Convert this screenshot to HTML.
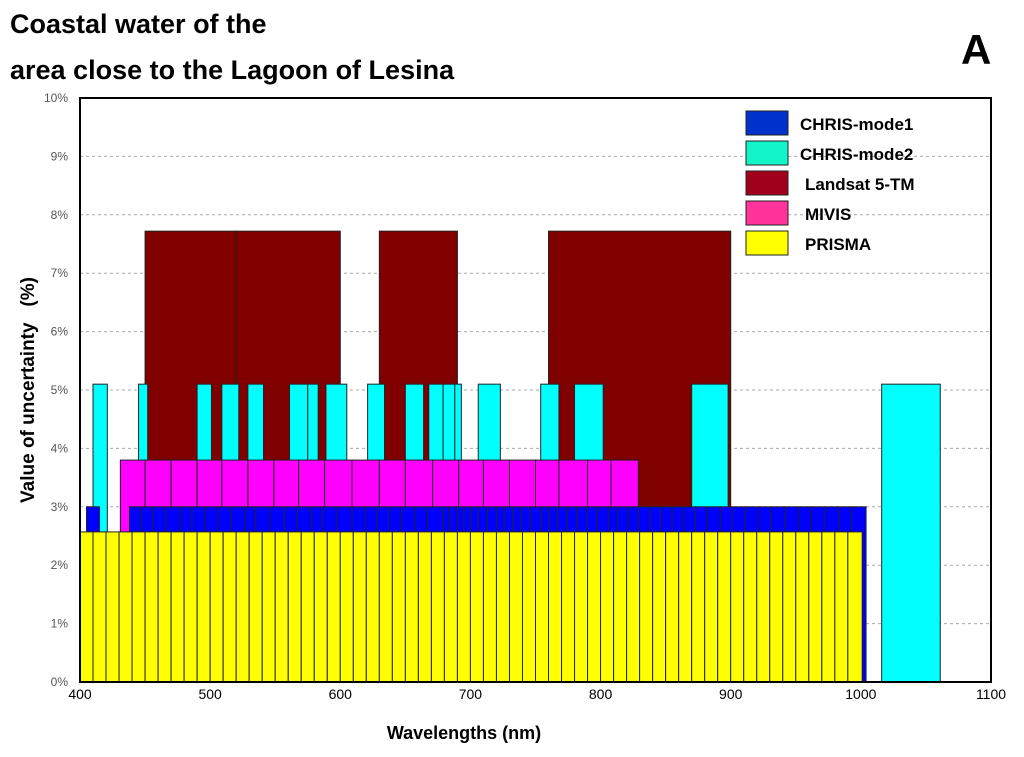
<!DOCTYPE html>
<html><head><meta charset="utf-8"><style>
body{margin:0;background:#fff;width:1024px;height:757px;overflow:hidden;font-family:"Liberation Sans",Arial,sans-serif}
svg{position:absolute;left:0;top:0}
</style></head><body>
<svg id="c" width="1024" height="757">
<text x="10" y="33" font-size="27" font-weight="bold" font-family="Liberation Sans">Coastal water of the</text>
<text x="10" y="79" font-size="27" font-weight="bold" font-family="Liberation Sans">area close to the Lagoon of Lesina</text>
<text x="961" y="64" font-size="42" font-weight="bold" font-family="Liberation Sans">A</text>
<text transform="translate(34,390) rotate(-90)" text-anchor="middle" font-size="19" font-weight="bold" font-family="Liberation Sans">Value of uncertainty&#160;&#160;&#160;(%)</text>
<text x="464" y="739" text-anchor="middle" font-size="18" font-weight="bold" font-family="Liberation Sans">Wavelengths (nm)</text>
<g id="grid"></g><g id="bars"></g><g id="axes"></g><g id="legend"></g>
</svg>
<script>
const xTicks=[400,500,600,700,800,900,1000,1100];
const yTicks=[0,1,2,3,4,5,6,7,8,9,10];
const landsatStart=[450,520,630,760];
const landsatEnd=[520,600,690,900];
const landsatValue=7.72;
const chris2Start=[410,445,490,509,529,561,575,589,621,650,668,679,688,706,754,780,870,1016];
const chris2End=[421,452,501,522,541,575,583,605,634,664,679,688,693,723,768,802,898,1061];
const chris2Value=5.1;
const mivisEdges=[431,450,470,490,509,529,549,568,588,609,630,650,671,691,710,730,750,768,790,808,829];
const mivisValue=3.8;
const chris1Edges=[438,447,456,466,477,486,496,506,516,527,535,546,557,567,578,586,597,609,619,628,637,647,657,667,679,684,690,695,700,706,713,720,726,733,739,746,754,760,767,774,782,790,797,806,813,821,829,838,846,855,864,873,882,892,901,911,921,931,942,952,962,972,983,993,1004];
const chris1Extra=[405,415];
const chris1Value=3.0;
const prismaEdges=[400,410,420,430,440,450,460,470,480,490,500,510,520,530,540,550,560,570,580,590,600,610,620,630,640,650,660,670,680,690,700,710,720,730,740,750,760,770,780,790,800,810,820,830,840,850,860,870,880,890,900,910,920,930,940,950,960,970,980,990,1001];
const prismaValue=2.57;
const seriesNames=["CHRIS-mode1","CHRIS-mode2","Landsat 5-TM","MIVIS","PRISMA"];

const X0=80,X1=991,Y0=682,Y1=98;
const sx=v=>X0+(v-400)*(X1-X0)/700;
const sy=v=>Y0-v*(Y0-Y1)/10;
const NS="http://www.w3.org/2000/svg";
function mk(tag,at,parent){const e=document.createElementNS(NS,tag);for(const k in at)e.setAttribute(k,at[k]);parent.appendChild(e);return e;}
const grid=document.getElementById('grid'),bars=document.getElementById('bars'),axes=document.getElementById('axes'),leg=document.getElementById('legend');
yTicks.forEach(t=>{
 if(t>0&&t<10){const l=mk('line',{x1:X0,x2:X1,y1:sy(t),y2:sy(t),stroke:'#aaa','stroke-dasharray':'3,3'},grid);
 
 }
 const tx=mk('text',{x:68,y:sy(t)+4,'text-anchor':'end','font-size':12,fill:'#555'},axes);tx.textContent=t+'%';
 
 
});
xTicks.forEach(t=>{
 const tx=mk('text',{x:sx(t),y:699,'text-anchor':'middle','font-size':14},axes);tx.textContent=t;
 
 
});
function bar(a,b,v,fill,name){
 const r=mk('rect',{x:sx(a),y:sy(v),width:sx(b)-sx(a),height:sy(0)-sy(v),fill:fill,stroke:'#222','stroke-width':1},bars);
 
 
}
landsatStart.forEach((s,i)=>bar(s,landsatEnd[i],landsatValue,'#800000','landsat-bar'));
chris2Start.forEach((s,i)=>bar(s,chris2End[i],chris2Value,'#00ffff','chris-mode2-bar'));
for(let i=0;i<mivisEdges.length-1;i++)bar(mivisEdges[i],mivisEdges[i+1],mivisValue,'#ff00ff','mivis-bar');
bar(chris1Extra[0],chris1Extra[1],chris1Value,'#0000ff','chris-mode1-bar');
for(let i=0;i<chris1Edges.length-1;i++)bar(chris1Edges[i],chris1Edges[i+1],chris1Value,'#0000ff','chris-mode1-bar');
for(let i=0;i<prismaEdges.length-1;i++)bar(prismaEdges[i],prismaEdges[i+1],prismaValue,'#ffff00','prisma-bar');
const fr=mk('rect',{x:X0,y:Y1,width:X1-X0,height:Y0-Y1,fill:'none',stroke:'#000','stroke-width':2},axes);


const lc=['#0033cc','#11f5c8','#a0001c','#ff3399','#ffff00'];
const ly=[111,141,171,201,231];
const lx=[800,800,805,805,805];
seriesNames.forEach((n,i)=>{
 const s=mk('rect',{x:746,y:ly[i],width:42,height:24,fill:lc[i],stroke:'#222'},leg);
 
 
 const t=mk('text',{x:lx[i],y:ly[i]+19,'font-size':17,'font-weight':'bold'},leg);t.textContent=n;
 
 
});
</script>
</body></html>
